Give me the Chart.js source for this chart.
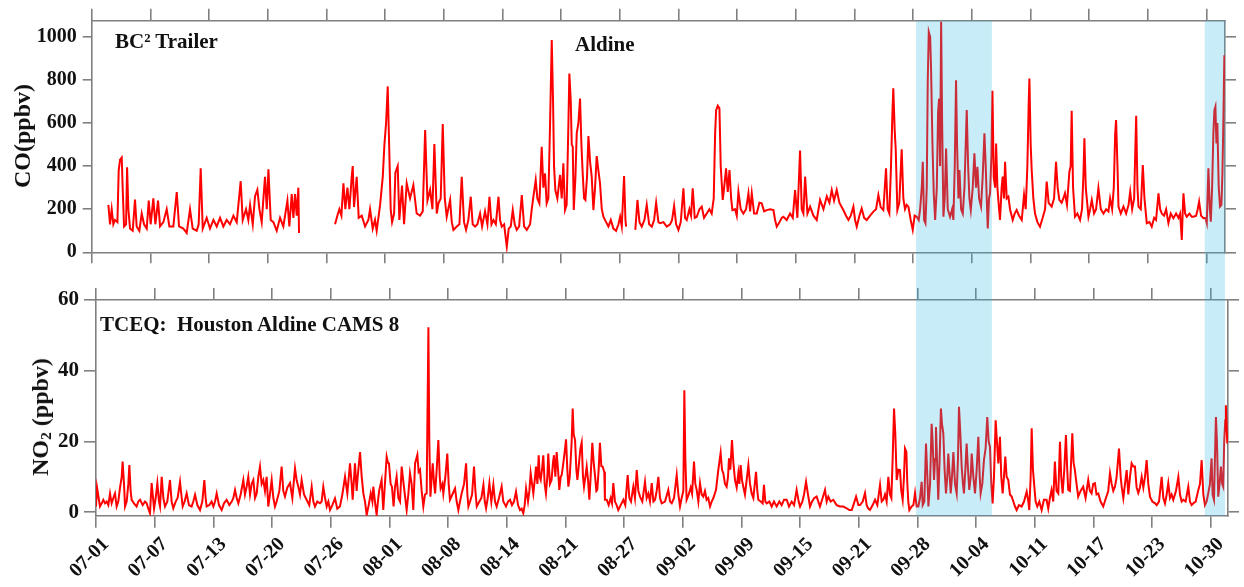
<!DOCTYPE html>
<html><head><meta charset="utf-8">
<script src="https://cdn.jsdelivr.net/npm/chart.js@4.4.1/dist/chart.umd.min.js"></script>
<style>
html,body{margin:0;padding:0;background:#fff;}
#wrap{position:relative;width:1244px;height:587px;overflow:hidden;background:#fff;font-family:'Liberation Serif','Times New Roman',serif;}
canvas{position:absolute;left:0;}
#c2{top:270px;z-index:1;}
#c1{top:0;z-index:2;}
.t{position:absolute;font-weight:bold;color:#111;white-space:nowrap;line-height:1;z-index:3;font-size:21px;}
.yt{position:absolute;font-weight:bold;color:#111;white-space:nowrap;line-height:1;z-index:3;font-size:24px;transform:translate(-50%,-50%) rotate(-90deg);}
.yt sub{font-size:0.65em;vertical-align:-0.2em;line-height:0;}
</style></head><body>
<div id="wrap">
<canvas id="c2" width="1244" height="317" style="width:1244px;height:317px"></canvas>
<canvas id="c1" width="1244" height="540" style="width:1244px;height:540px"></canvas>
<div class="t" style="left:115px;top:31px">BC² Trailer</div>
<div class="t" style="left:575px;top:34px">Aldine</div>
<div class="t" style="left:100px;top:314px">TCEQ:&nbsp; Houston Aldine CAMS 8</div>
<div class="yt" style="left:22px;top:136px">CO(ppbv)</div>
<div class="yt" style="left:40px;top:417px">NO<sub>2</sub> (ppbv)</div>
</div>
<script>
// x positions are days since 07-01 00:00
const tickLabels = ['07-01','07-07','07-13','07-20','07-26','08-01','08-08','08-14','08-21','08-27','09-02','09-09','09-15','09-21','09-28','10-04','10-11','10-17','10-23','10-30'];
const tickDays = [0,6.368,12.737,19.105,25.474,31.842,38.211,44.579,50.947,57.316,63.684,70.053,76.421,82.789,89.158,95.526,101.895,108.263,114.632,121.0];
const coTicks = [0,200,400,600,800,1000];
const no2Ticks = [0,20,40,60];
const shadeSpans = [[89.47,97.7],[120.8,123.5]];

// CO (ppbv), BC2 trailer: [day, value]
const coSeries = [
[1.81,220],[1.99,130],[2.17,200],[2.35,130],[2.53,150],[2.79,140],[2.93,380],[3.08,430],[3.26,440],[3.36,300],[3.51,120],[3.73,130],[3.84,395],[3.98,200],[4.16,110],[4.45,100],[4.70,245],[4.88,120],[5.17,100],[5.43,180],[5.68,130],[5.97,110],[6.19,240],[6.40,130],[6.69,250],[6.91,130],[7.2,240],[7.42,120],[7.78,140],[8.14,200],[8.43,120],[8.86,120],[9.23,280],[9.48,120],[9.95,110],[10.31,90],[10.67,200],[10.96,110],[11.4,100],[11.61,130],[11.83,390],[12.05,110],[12.48,160],[12.84,110],[13.21,150],[13.57,120],[13.93,160],[14.29,120],[14.65,150],[15.01,130],[15.38,170],[15.74,140],[16.17,330],[16.39,150],[16.75,200],[17.0,150],[17.19,220],[17.48,130],[17.73,260],[17.98,290],[18.2,200],[18.45,140],[18.81,350],[19.0,200],[19.18,385],[19.43,150],[19.72,140],[20.08,100],[20.44,160],[20.8,120],[21.24,240],[21.45,120],[21.71,270],[21.89,160],[22.07,270],[22.25,170],[22.43,300],[22.5,90],
[24.5,null],
[26.41,130],[26.66,170],[26.88,200],[27.1,170],[27.32,320],[27.53,200],[27.75,300],[27.97,200],[28.22,350],[28.33,400],[28.47,210],[28.76,350],[28.98,160],[29.31,170],[29.67,120],[30.03,150],[30.21,200],[30.5,110],[30.75,150],[30.93,100],[31.3,220],[31.59,350],[31.77,500],[31.95,600],[32.13,770],[32.24,570],[32.45,200],[32.6,140],[32.82,180],[32.96,370],[33.21,400],[33.39,150],[33.68,310],[33.9,130],
[34.19,320],[34.55,250],[34.91,312],[35.27,180],[35.64,170],[35.93,190],[36.19,567],[36.44,240],[36.73,290],[36.98,200],[37.19,502],[37.45,180],[37.63,227],[37.88,250],[38.1,595],[38.32,250],[38.53,165],[38.9,243],[39.08,140],[39.26,104],[39.62,120],[39.91,130],[40.16,351],[40.41,140],[40.63,104],[40.88,150],[41.14,258],[41.35,130],[41.61,119],[41.86,130],[42.15,180],[42.37,120],[42.69,190],[42.95,130],[43.17,258],[43.39,130],[43.6,150],[43.86,130],[44.15,258],[44.32,150],[44.5,119],[44.76,130],[45.05,26],[45.26,110],[45.48,120],[45.7,196],[45.91,130],[46.13,104],[46.39,120],[46.68,266],[46.93,120],[47.22,104],[47.58,130],[47.76,200],[47.94,258],[48.19,335],[48.37,250],[48.59,227],[48.84,490],[49.02,300],[49.2,366],[49.38,227],[49.56,250],[49.74,580],[49.93,985],[50.07,707],[50.18,400],[50.32,289],[50.54,250],[50.83,359],[51.01,250],[51.19,413],[51.37,196],[51.55,220],[51.74,600],[51.84,830],[51.99,707],[52.1,500],[52.21,490],[52.32,196],[52.5,350],[52.64,552],[52.82,600],[53.0,714],[53.15,500],[53.29,366],[53.44,250],[53.58,243],[53.76,350],[53.91,540],[54.09,420],[54.27,350],[54.45,196],[54.63,300],[54.81,447],[54.99,380],[55.17,320],[55.36,200],[55.54,165],[55.83,140],[56.08,120],[56.34,150],[56.62,110],[56.91,100],[57.17,130],[57.35,165],[57.53,120],[57.78,354],[57.93,150],[58.0,119],
[58.5,null],
[59.0,104],[59.23,243],[59.45,140],[59.7,119],[59.99,150],[60.24,220],[60.5,130],[60.79,119],[61.04,150],[61.26,230],[61.51,140],[61.69,135],[62.05,140],[62.41,119],[62.78,130],[62.99,150],[63.21,215],[63.43,130],[63.68,104],[63.93,140],[64.22,297],[64.4,160],[64.58,150],[64.87,200],[65.05,170],[65.23,297],[65.45,160],[65.67,165],[65.96,200],[66.21,212],[66.46,160],[66.75,180],[67.04,200],[67.29,180],[67.51,250],[67.66,550],[67.77,660],[67.95,680],[68.13,668],[68.27,400],[68.49,243],[68.64,300],[68.85,390],[69.03,280],[69.22,382],[69.4,250],[69.54,196],[69.83,200],[70.01,170],[70.19,281],[70.44,200],[70.73,180],[71.02,200],[71.28,274],[71.46,190],[71.64,274],[71.89,180],[72.18,180],[72.47,230],[72.72,227],[72.98,190],[73.26,196],[73.63,200],[73.99,196],[74.17,150],[74.35,119],[74.64,140],[74.89,160],[75.07,165],[75.43,150],[75.8,180],[76.09,160],[76.34,289],[76.59,160],[76.88,472],[77.06,200],[77.24,180],[77.43,351],[77.68,180],[77.97,212],[78.33,170],[78.69,150],
[79.05,243],[79.42,200],[79.78,260],[80.07,230],[80.32,289],[80.57,240],[80.86,289],[81.15,230],[81.4,210],[81.58,196],[81.87,170],[82.13,150],[82.38,170],[82.67,212],[82.85,150],[83.03,119],[83.32,170],[83.57,204],[83.83,160],[84.12,150],[84.48,170],[84.84,189],[85.13,200],[85.38,266],[85.63,210],[85.92,196],[86.21,390],[86.39,200],[86.57,180],[86.75,400],[86.9,640],[87.0,761],[87.15,567],[87.26,480],[87.44,196],[87.65,230],[87.91,478],[88.09,250],[88.27,200],[88.45,220],[88.64,212],[88.89,150],[89.11,104],[89.32,170],[89.54,165],[89.76,150],[89.91,200],[90.09,300],[90.2,420],[90.34,150],[90.49,135],[90.63,300],[90.74,800],[90.85,1023],[91.0,1000],[91.1,846],[91.25,500],[91.39,274],[91.54,150],[91.72,300],[91.86,650],[91.97,714],[92.08,400],[92.19,1070],[92.3,600],[92.44,165],[92.58,250],[92.73,482],[92.91,200],[93.16,165],[93.38,200],[93.52,150],[93.67,400],[93.81,799],[93.92,500],[94.07,250],[94.18,382],[94.36,200],[94.54,180],[94.72,300],[94.86,500],[94.97,660],[95.12,400],[95.26,250],[95.41,196],[95.62,300],[95.8,459],[95.98,300],[96.13,397],[96.31,250],[96.52,212],[96.7,350],[96.89,552],[97.03,400],[97.18,200],[97.25,111],[97.39,250],[97.5,274],[97.65,450],[97.76,750],[97.9,350],[98.05,300],[98.16,505],[98.3,300],[98.48,200],[98.58,150],[98.76,300],[98.87,351],[99.02,250],[99.13,420],[99.31,250],[99.49,258],[99.67,200],[99.96,150],[100.18,180],[100.39,196],[100.65,170],[100.94,150],[101.19,266],[101.37,200],[101.55,400],[101.7,700],[101.77,807],[101.91,500],[102.02,382],[102.2,250],[102.38,180],[102.64,140],[102.92,119],[103.21,160],[103.47,200],[103.65,328],[103.86,230],[104.19,212],[104.45,250],[104.66,420],[104.84,300],[105.02,243],[105.27,230],[105.45,250],[105.63,274],[105.85,220],[106.11,374],[106.25,400],[106.36,657],[106.51,300],[106.72,165],[106.98,180],[107.27,150],[107.48,200],[107.63,350],[107.74,529],[107.89,300],[108.18,165],[108.36,200],[108.54,243],[108.79,180],[109.01,200],[109.26,297],[109.52,200],[109.81,180],[110.1,200],[110.35,190],[110.53,250],[110.75,200],[110.93,300],[111.08,550],[111.18,614],[111.33,400],[111.44,212],[111.69,180],[111.98,212],[112.27,180],[112.53,220],[112.71,281],[112.92,200],[113.14,250],[113.25,450],[113.36,634],[113.5,300],[113.61,212],[113.86,200],[114.08,405],[114.26,250],[114.51,135],[114.8,140],[115.05,119],[115.31,160],[115.52,150],[115.78,274],[115.96,200],[116.14,180],[116.39,170],[116.61,200],[116.86,135],[117.11,180],[117.4,158],[117.69,180],[117.95,160],[118.13,180],[118.31,57],[118.42,200],[118.49,274],[118.67,180],[118.85,165],[119.14,180],[119.39,165],[119.58,165],[119.86,170],[120.04,200],[120.19,235],[120.4,170],[120.66,158],[120.87,160],[121.02,135],[121.2,390],[121.35,200],[121.46,142],[121.6,300],[121.74,552],[121.85,660],[121.96,676],[122.07,505],[122.17,600],[122.32,300],[122.46,212],[122.61,220],[122.72,366],[122.82,600],[122.93,915]
];

// NO2 (ppbv), TCEQ Houston Aldine CAMS 8: [day, value]
const no2Series = [
[0,1.6],[0.11,7],[0.29,4],[0.43,1.6],[0.62,2.5],[0.8,3.5],[0.98,2.5],[1.16,3],[1.34,2],[1.52,5.3],[1.7,2.5],[1.88,4],[2.06,5.3],[2.24,1.6],[2.42,3],[2.6,6.8],[2.79,10],[2.89,14.3],[3.04,8],[3.15,1.6],[3.33,3],[3.51,8],[3.62,13.3],[3.76,6],[3.87,3.5],[4.12,2.5],[4.41,1.6],[4.59,3],[4.78,3.5],[5.07,2],[5.32,3],[5.5,2.5],[5.68,1],[5.86,-0.3],[6.04,8.2],[6.3,1],[6.48,4],[6.66,8.2],[6.84,3],[6.95,1.6],[7.13,10],[7.31,4],[7.49,1.6],[7.74,3],[8.03,9.1],[8.21,3],[8.39,1.1],[8.65,3],[8.86,4],[9.12,8.6],[9.26,5],[9.41,1.6],[9.62,3],[9.84,5.3],[10.09,2],[10.38,1.6],[10.56,3],[10.75,4.9],[11.0,2],[11.29,0.6],[11.54,3],[11.76,9.1],[11.9,4],[12.01,1.6],[12.3,2],[12.55,3],[12.74,1.6],[12.92,3],[13.1,5.3],[13.35,2],[13.64,0.6],[13.89,2.5],[14.18,3.5],[14.47,2],[14.73,3],[14.91,4],[15.09,6.3],[15.27,4],[15.45,2.5],[15.7,5],[15.99,9.1],[16.17,5],[16.35,7.2],[16.53,10],[16.72,5],[16.9,8],[17.08,9.1],[17.26,4],[17.44,5.3],[17.62,10],[17.8,12.9],[17.98,8],[18.16,9.1],[18.34,6],[18.52,10],[18.7,1.6],[18.88,5],[19.07,9.1],[19.25,4],[19.43,1.6],[19.61,3],[19.9,6],[20.15,12.9],[20.33,6],[20.51,4.4],[20.77,7],[21.06,8.2],[21.31,4],[21.6,12.4],[21.78,9],[21.96,7.2],[22.14,5],[22.32,9.1],[22.58,5],[22.86,3.5],[23.15,2],[23.41,7.2],[23.59,3],[23.77,1.6],[24.02,3],[24.31,2.5],[24.49,3],[24.67,7.2],[24.86,4],[25.04,1.6],[25.22,3],[25.4,0.6],[25.65,2],[25.94,3.9],[26.19,1],[26.48,1.6],[26.74,5],[27.03,10],[27.28,5.3],[27.57,13.8],[27.75,8],[27.86,3.5],[28.11,13.8],[28.29,6],[28.37,9],[28.55,14],[28.66,17],[28.84,10],[29.02,5.3],[29.2,3],[29.38,-0.8],[29.6,2],[29.82,5.3],[30.0,3],[30.1,7.2],[30.28,3],[30.46,-0.8],[30.64,4],[30.75,6.3],[31.0,9.1],[31.18,0.6],[31.36,8],[31.55,15.7],[31.69,14],[31.8,13.8],[31.98,8],[32.12,7.2],[32.3,1.6],[32.45,7],[32.63,10],[32.82,4],[33.0,3],
[33.18,12.9],[33.43,7],[33.72,0.6],[33.9,5],[34.08,11],[34.26,8],[34.44,0.6],[34.63,13.8],[34.88,16.2],[35.02,11.4],[35.17,12],[35.35,6],[35.53,1.6],[35.71,5],[35.89,5.3],[36.08,52.3],[36.18,20],[36.3,4.4],[36.44,10],[36.55,13.8],[36.7,8],[36.81,5.3],[36.98,12],[37.16,20.4],[37.31,10],[37.41,6.7],[37.6,8],[37.7,5.3],[37.92,10],[38.13,16.6],[38.28,8],[38.42,3.5],[38.68,5],[38.97,6.7],[39.15,3],[39.33,0.6],[39.51,3],[39.69,5.3],[39.95,8],[40.17,13.8],[40.31,5],[40.42,1.6],[40.6,3],[40.82,5],[41.03,12.9],[41.18,6],[41.33,1.6],[41.61,3],[41.83,4],[42.05,7.7],[42.2,3],[42.34,1.1],[42.52,4],[42.7,8.2],[42.91,3],[43.13,7.7],[43.31,3],[43.49,1.6],[43.74,4],[44.03,7.2],[44.21,3],[44.5,1.6],[44.72,3],[44.94,3.5],[45.15,2],[45.37,3],[45.59,5.8],[45.81,2],[46.02,0.6],[46.2,1],[46.38,-0.3],[46.53,2],[46.68,6.7],[46.89,3],[47.04,6],[47.18,11],[47.33,8],[47.47,5.3],[47.62,9],[47.76,12.9],[47.91,8],[48.05,16.1],[48.16,10],[48.27,9.1],[48.41,12],[48.55,16.1],[48.7,8],[48.84,5.3],[48.99,10],[49.09,16.6],[49.27,8],[49.45,9.1],[49.6,14],[49.71,16.1],[49.86,10],[50.0,17],[50.15,12],[50.29,6.3],[50.44,10],[50.55,10.5],[50.73,14],[50.87,17],[51.02,20.6],[51.16,12],[51.27,7.2],[51.42,10],[51.52,14.7],[51.63,20],[51.74,29.3],[51.85,22],[52.0,20.4],[52.14,12],[52.25,9.1],[52.43,14],[52.58,18],[52.72,19.7],[52.86,10],[52.97,7.2],[53.12,10],[53.26,12.9],[53.41,9],[53.55,3.5],[53.69,10],[53.87,19.6],[54.02,14],[54.16,10.5],[54.31,6],[54.41,6.3],[54.56,12],[54.7,19.6],[54.85,13],[54.99,12.9],[55.17,11.4],[55.24,3.5],[55.43,3.5],[55.65,2],[55.86,4],[56.01,2.5],[56.15,8.2],[56.33,3],[56.51,2],[56.69,0.6],[56.95,2],[57.24,3.5],[57.45,2],[57.71,10.5],[57.89,4],[58.07,3],[58.32,7.2],[58.5,4],[58.69,11.9],[58.87,6],[59.05,4.4],[59.3,3],[59.59,8.6],[59.77,4],[59.95,5.3],[60.13,3],[60.32,8.2],[60.5,3],[60.68,3.5],[60.86,6],[61.04,10],[61.22,4],[61.4,2.5],[61.76,3],[62.12,6.3],[62.31,3],[62.49,2.5],[62.74,4],[63.03,10.5],[63.21,5],[63.39,1.6],[63.57,4],[63.75,6],[63.86,34.5],[63.97,15],[64.11,3.5],[64.33,5],[64.55,7],[64.7,5.3],[64.91,14.3],[65.05,8],[65.2,6.3],[65.38,3],[65.56,8.2],[65.74,5],[65.92,4.4],[66.1,6],[66.28,3.5],[66.46,4],[66.65,1.6],[66.83,3],[67.01,4],[67.3,6.3],[67.55,12],[67.8,16.8],[67.95,12],[68.09,11],[68.27,8],[68.45,7.2],[68.6,10],[68.71,15.2],[68.85,12],[69.03,20.4],[69.18,14],[69.36,9.1],[69.54,7],[69.72,11],[69.83,8],[69.97,13.3],[70.12,9],[70.26,7.2],[70.44,5],[70.62,9],[70.81,13.3],[70.99,8],[71.17,5.3],[71.35,4],[71.64,11.4],[71.78,6],[71.89,3.5],[72.15,3],[72.36,2.5],[72.5,7.7],[72.65,3],[72.8,2.5],[73.09,3],[73.34,1.6],[73.59,3],[73.88,1.6],[74.17,3],[74.42,2],[74.68,3.5],[74.97,3.5],[75.22,1.6],[75.51,3],[75.77,2],[76.05,6.3],[76.27,3],[76.42,1.6],[76.67,3],[76.85,5],[77.07,8.6],[77.28,5],[77.5,1.6],[77.72,3],[77.97,4],[78.22,4.4],
[78.58,1.6],[78.87,4],[79.13,6.3],[79.31,3],[79.49,4.4],[79.74,3],[80.03,3.5],[80.39,2],[80.75,1.6],[81.12,1.6],[81.48,1.1],[81.77,0.6],[82.03,0.6],[82.21,2],[82.5,4.4],[82.75,2],[82.93,2],[83.22,3],[83.47,5.4],[83.65,2],[83.83,1],[84.01,0.6],[84.3,2],[84.56,3.5],[84.81,2],[85.1,7.7],[85.28,3],[85.46,3.5],[85.64,5],[85.82,3],[86.0,10],[86.18,5],[86.33,4],[86.47,15],[86.62,29.3],[86.76,22],[86.91,9.1],[87.09,12],[87.27,11.9],[87.41,6],[87.56,3.5],[87.7,10],[87.81,18],[87.96,17],[88.06,8.2],[88.17,3],[88.28,0.6],[88.53,1.6],[88.72,2],[88.9,5.4],[89.08,1.6],[89.26,1.6],[89.44,4],[89.62,8.6],[89.73,2],[89.91,3],[90.09,19.4],[90.24,10],[90.35,1.6],[90.53,8],[90.7,25],[90.81,20],[90.96,9.1],[91.07,15],[91.17,24.1],[91.32,12],[91.42,3.5],[91.57,15],[91.71,29.3],[91.82,25],[91.97,22.3],[92.11,12],[92.26,5.3],[92.4,10],[92.51,16.6],[92.62,12],[92.77,5.3],[92.91,10],[93.06,17],[93.24,8],[93.42,5.3],[93.56,15],[93.67,29.8],[93.82,22],[93.96,12.9],[94.1,8],[94.21,5.3],[94.36,12],[94.5,19.4],[94.65,12],[94.79,6.3],[94.94,10],[95.05,16.6],[95.23,10],[95.41,5.3],[95.59,12],[95.77,21.3],[95.92,10],[96.02,5.3],[96.2,8],[96.38,14.7],[96.56,18],[96.74,26.9],[96.89,20],[97.03,18.5],[97.18,8],[97.32,2.5],[97.47,10],[97.65,26],[97.79,20],[97.94,13.8],[98.12,21.3],[98.26,10],[98.41,5.3],[98.55,10],[98.7,15.7],[98.84,10],[99.02,9.1],[99.2,5],[99.39,4.4],[99.57,3],[99.75,1.6],[99.93,0.6],[100.18,2],[100.47,1.6],[100.73,3],[101.02,5.8],[101.2,3],[101.3,0.6],[101.45,10],[101.56,23.7],[101.7,12],[101.85,7.2],[101.99,3],[102.17,1.6],[102.39,3],[102.64,0.6],[102.89,3.5],[103.18,3.5],[103.36,1],[103.54,4],[103.72,6.3],[103.9,3],[104.08,14.3],[104.26,6],[104.45,5.3],[104.63,19.9],[104.77,10],[104.92,5.3],[105.1,12],[105.28,21.8],[105.42,12],[105.53,6.3],[105.71,6],[105.97,22.3],[106.11,14],[106.25,11.9],[106.43,8],[106.61,4.4],[106.87,6],[107.15,7.2],[107.41,4],[107.7,9.1],[107.88,6],[108.06,5.3],[108.24,8],[108.42,8.2],[108.6,5],[108.79,5.3],[109.04,3],[109.33,1.6],[109.62,4],[109.87,6],[110.06,11],[110.24,8],[110.42,6],[110.6,7.2],[110.78,10],[111.04,18],[111.22,10],[111.33,7.2],[111.51,4],[111.69,8],[111.87,11.9],[112.05,5],[112.23,10],[112.41,13.8],[112.59,12.9],[112.77,12.9],[112.95,7],[113.13,5.4],[113.31,7],[113.5,10],[113.68,7],[113.86,10],[114.04,14.7],[114.22,8],[114.4,4.4],[114.66,3],[114.95,2.5],[115.13,2],[115.38,3],[115.67,10],[115.85,4],[116.03,2.5],[116.21,5],[116.39,8.2],[116.57,4],[116.75,5],[116.93,3.5],[117.22,6],[117.48,10],[117.66,5],[117.84,3],[118.02,3.5],[118.27,3],[118.56,7.2],[118.74,3],[118.92,2],[119.11,2.5],[119.36,3],[119.65,6.3],[119.83,8],[120.01,14.7],[120.19,5],[120.37,2],[120.55,3],[120.73,5.4],[120.91,8],[121.09,15.2],[121.2,5],[121.35,3.5],[121.45,15],[121.56,26.9],[121.67,20],[121.81,4.4],[121.96,8],[122.1,12.9],[122.24,8],[122.35,7.2],[122.46,20],[122.57,26],[122.64,30.2],[122.71,25],[122.79,19.4]
];

const AX = '#808080';
const FONT = "'Liberation Serif','Times New Roman',serif";
const toPts = arr => arr.map(p => ({x: p[0], y: p[1]}));
const setTicks = list => (s => { s.ticks = list.map(v => ({value: v})); });
const plain = v => String(v);

function frame(extra, tickLen) {
  return Object.assign({
    border: {display: true, color: AX, width: 1.6},
    grid: {drawOnChartArea: false, drawTicks: true, color: AX, lineWidth: 1.6, tickLength: tickLen}
  }, extra);
}

const C2_TOP = 270, C1_TOP = 0;

// ---------- bottom panel (NO2) ----------
const H2 = 317;
const chart2 = new Chart(document.getElementById('c2'), {
  type: 'line',
  data: {datasets: [{data: toPts(no2Series), borderColor: '#ff0000', borderWidth: 2, pointRadius: 0, tension: 0, spanGaps: false}]},
  options: {
    responsive: false, animation: false, devicePixelRatio: 1,
    plugins: {legend: {display: false}, tooltip: {enabled: false}},
    layout: {padding: 0},
    scales: {
      x: frame({type: 'linear', position: 'bottom', min: 0, max: 122.87,
        afterBuildTicks: setTicks(tickDays),
        ticks: {autoSkip: false, minRotation: 45, maxRotation: 45, padding: 5, labelOffset: 10, color: '#111',
          font: {family: FONT, size: 20, weight: 'bold'},
          callback: (v, i) => tickLabels[i]},
        afterFit: s => { s.height = H2 - (515.7 - C2_TOP); }}, 12),
      xt: frame({type: 'linear', position: 'top', min: 0, max: 122.87,
        afterBuildTicks: setTicks(tickDays), ticks: {display: false},
        afterFit: s => { s.height = 300 - C2_TOP; }}, 12),
      y: frame({position: 'left', min: -1, max: 60,
        afterBuildTicks: setTicks(no2Ticks),
        ticks: {padding: 5, color: '#111', font: {family: FONT, size: 21, weight: 'bold'}, callback: plain},
        afterFit: s => { s.width = 96; }}, 12),
      yr: frame({position: 'right', min: -1, max: 60,
        afterBuildTicks: setTicks(no2Ticks), ticks: {display: false},
        afterFit: s => { s.width = 1244 - 1228; }}, 11)
    }
  }
});

// ---------- top panel (CO) + shading band ----------
const H1 = 540;
const shadePlugin = {
  id: 'shade',
  afterDatasetsDraw(chart) {
    const {ctx, chartArea: a, scales: {x}} = chart;
    const bottom = chart2.chartArea.bottom + (C2_TOP - C1_TOP);
    ctx.save();
    ctx.fillStyle = 'rgba(36,179,227,0.25)';
    shadeSpans.forEach(([s, e]) => {
      const x0 = Math.max(x.getPixelForValue(s), a.left);
      const x1 = Math.min(x.getPixelForValue(e), a.right);
      ctx.fillRect(x0, a.top, x1 - x0, bottom - a.top);
    });
    ctx.restore();
  }
};

const chart1 = new Chart(document.getElementById('c1'), {
  type: 'line',
  data: {datasets: [{data: toPts(coSeries), borderColor: '#ff0000', borderWidth: 2, pointRadius: 0, tension: 0, spanGaps: false}]},
  options: {
    responsive: false, animation: false, devicePixelRatio: 1,
    plugins: {legend: {display: false}, tooltip: {enabled: false}},
    layout: {padding: 0},
    scales: {
      x: frame({type: 'linear', position: 'bottom', min: 0, max: 123.0,
        afterBuildTicks: setTicks(tickDays), ticks: {display: false},
        afterFit: s => { s.height = H1 - 252.3; }}, 11),
      xt: frame({type: 'linear', position: 'top', min: 0, max: 123.0,
        afterBuildTicks: setTicks(tickDays), ticks: {display: false},
        afterFit: s => { s.height = 20.7; }}, 12),
      y: frame({position: 'left', min: 0, max: 1075,
        afterBuildTicks: setTicks(coTicks),
        ticks: {padding: 6, color: '#111', font: {family: FONT, size: 20, weight: 'bold'}, callback: plain},
        afterFit: s => { s.width = 91.7; }}, 9),
      yr: frame({position: 'right', min: 0, max: 1075,
        afterBuildTicks: setTicks(coTicks), ticks: {display: false},
        afterFit: s => { s.width = 1244 - 1225; }}, 11)
    }
  },
  plugins: [shadePlugin]
});
</script>
</body></html>
